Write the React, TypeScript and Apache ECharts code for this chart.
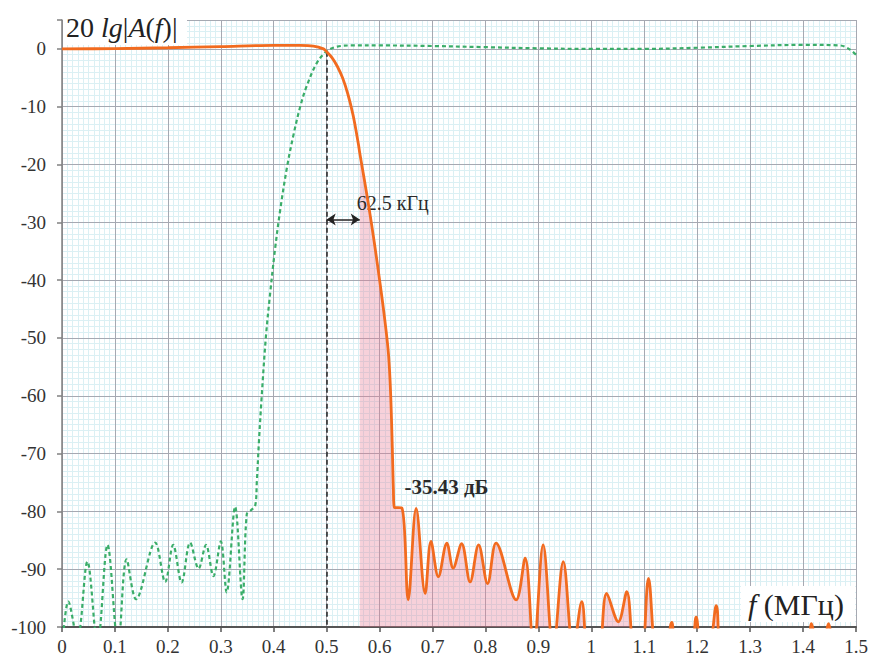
import { useEffect, useRef } from "react";
import * as echarts from "echarts";

// Low-pass response (orange), [f MHz, dB]
const lowpass: [number, number][] = [
  [0, 0], [0.1, 0.05], [0.2, 0.2], [0.3, 0.4], [0.4, 0.6], [0.45, 0.6], [0.475, 0.5], [0.494, 0],
  [0.5, -0.5], [0.51, -1.5], [0.52, -3], [0.53, -5], [0.54, -7.8], [0.55, -11.5], [0.56, -16.5],
  [0.5625, -18], [0.57, -22], [0.58, -27.5], [0.59, -33.5], [0.6, -40], [0.61, -47], [0.617, -53],
  [0.621, -60], [0.624, -69], [0.626, -76], [0.628, -79.3], [0.642, -79.4], [0.654, -95.3], [0.669, -79.5],
  [0.686, -94.2], [0.697, -85.2], [0.711, -91.3], [0.727, -85.5], [0.739, -89.8], [0.755, -85.6],
  [0.771, -92.2], [0.787, -85.8], [0.804, -92.5], [0.82, -85.5], [0.858, -95.3], [0.875, -88.1],
  [0.891, -104], [0.909, -85.8], [0.928, -104], [0.947, -88.7], [0.966, -104], [0.982, -95.6],
  [0.996, -106], [1.012, -106], [1.029, -94.2], [1.051, -99.1], [1.067, -93.9], [1.083, -106],
  [1.094, -106], [1.108, -91.6], [1.125, -106], [1.143, -103], [1.152, -99.2], [1.161, -103],
  [1.188, -103], [1.198, -98.3], [1.208, -103], [1.222, -103], [1.236, -96.3], [1.25, -106],
  [1.405, -106], [1.416, -99.4], [1.427, -103], [1.438, -103], [1.448, -99.4], [1.458, -103], [1.5, -108],
];

// High-pass response (green dashed), [f MHz, dB]
const highpass: [number, number][] = [
  [0, -104], [0.012, -95.6], [0.029, -102], [0.048, -88.7], [0.067, -103], [0.086, -85.8],
  [0.106, -103], [0.122, -88.3], [0.14, -95.2], [0.176, -85.4], [0.195, -92.2], [0.21, -85.8],
  [0.226, -92.3], [0.242, -85.4], [0.258, -89.9], [0.272, -85.8], [0.286, -91.2], [0.3, -85.2],
  [0.311, -94], [0.327, -79.2], [0.341, -95.2], [0.349, -80.5], [0.357, -79.8], [0.365, -79],
  [0.368, -75], [0.372, -68], [0.377, -60.5], [0.385, -50], [0.393, -42.5], [0.402, -35],
  [0.412, -28], [0.425, -20.5], [0.437, -15], [0.45, -10], [0.462, -6.5], [0.481, -2.5],
  [0.5, -0.4], [0.52, 0.4], [0.55, 0.6], [0.6, 0.6], [0.7, 0.5], [0.8, 0.3], [0.9, 0.1], [1.0, 0],
  [1.1, 0], [1.2, 0.2], [1.3, 0.5], [1.4, 0.7], [1.47, 0.6], [1.485, 0.1], [1.5, -1],
];

const cutoffF = 0.5;
const shadeStartF = 0.5625;
const crossDb = -0.5;
const arrowDb = -29.5;
const bandLabel = { f: 0.556, db: -26.6, text: "62.5 кГц" };
const levelLabel = { f: 0.646, db: -75.8, text: "-35.43 дБ" };

const xRange = { min: 0, max: 1.5, major: 0.1, minor: 0.01 };
const yRange = { min: -100, max: 5, major: 10, minor: 1 };

const SERIF = "Liberation Serif";
const ORANGE = "#f26b1f";
const GREEN = "#3aad69";
const SMOOTH = 0.35;

export default function App() {
  const ref = useRef<HTMLDivElement>(null);

  useEffect(() => {
    const chart = echarts.init(ref.current!, null, { renderer: "svg" });
    const shaded = lowpass.filter((p) => p[0] >= shadeStartF);

    chart.setOption({
      animation: false,
      backgroundColor: "#fff",
      textStyle: { fontFamily: SERIF },
      grid: { left: 62, right: 15, top: 20, bottom: 32, containLabel: false },
      xAxis: [
        {
          type: "value",
          min: xRange.min,
          max: xRange.max,
          interval: xRange.major,
          z: 2,
          axisLine: { show: true, onZero: false, lineStyle: { color: "#555", width: 2 } },
          axisTick: { show: true, length: 5, lineStyle: { color: "#555", width: 1.5 } },
          axisLabel: { fontFamily: SERIF, fontSize: 19, color: "#333", margin: 10 },
          splitLine: { show: true, lineStyle: { color: "#a6a9b2", width: 1 } },
        },
        {
          type: "value",
          min: xRange.min,
          max: xRange.max,
          interval: xRange.minor,
          z: 0,
          axisLine: { show: false },
          axisTick: { show: false },
          axisLabel: { show: false },
          splitLine: { show: true, lineStyle: { color: "#dbf0f4", width: 1 } },
        },
      ],
      yAxis: [
        {
          type: "value",
          min: yRange.min,
          max: yRange.max,
          interval: yRange.major,
          z: 2,
          axisLine: { show: true, onZero: false, lineStyle: { color: "#808080", width: 1.5 } },
          axisTick: { show: true, length: 5, lineStyle: { color: "#808080", width: 1.5 } },
          axisLabel: {
            fontFamily: SERIF,
            fontSize: 19,
            color: "#333",
            margin: 16,
            formatter: (v: number) => (v > 0 ? "" : String(v)),
          },
          splitLine: { show: true, lineStyle: { color: "#a6a9b2", width: 1 } },
        },
        {
          type: "value",
          min: yRange.min,
          max: yRange.max,
          interval: yRange.minor,
          z: 0,
          axisLine: { show: false },
          axisTick: { show: false },
          axisLabel: { show: false },
          splitLine: { show: true, lineStyle: { color: "#dbf0f4", width: 1 } },
        },
      ],
      series: [
        {
          type: "line",
          data: shaded,
          smooth: SMOOTH,
          symbol: "none",
          z: 3,
          lineStyle: { width: 0, color: "rgba(0,0,0,0)" },
          areaStyle: { color: "rgba(232,120,145,0.48)", origin: "start" },
          silent: true,
        },
        {
          type: "line",
          data: highpass,
          smooth: SMOOTH,
          symbol: "none",
          z: 4,
          lineStyle: { color: GREEN, width: 2.2, type: [4, 3] },
          silent: true,
        },
        {
          type: "line",
          data: lowpass,
          smooth: SMOOTH,
          symbol: "none",
          z: 5,
          lineStyle: { color: ORANGE, width: 2.8 },
          silent: true,
          markLine: {
            silent: true,
            symbol: ["none", "none"],
            label: { show: false },
            data: [
              [
                { coord: [cutoffF, crossDb], lineStyle: { type: [5, 3], color: "#222", width: 1.5 } },
                { coord: [cutoffF, yRange.min] },
              ],
              [
                {
                  coord: [cutoffF, arrowDb],
                  symbol: "arrow",
                  symbolSize: 9,
                  lineStyle: { type: "solid", color: "#222", width: 1.6 },
                },
                { coord: [shadeStartF, arrowDb], symbol: "arrow", symbolSize: 9 },
              ],
            ],
          },
          markPoint: {
            silent: true,
            symbol: "circle",
            symbolSize: 1,
            itemStyle: { color: "rgba(0,0,0,0)" },
            data: [
              {
                name: bandLabel.text,
                coord: [bandLabel.f, bandLabel.db],
                label: {
                  show: true,
                  position: "right",
                  distance: 0,
                  formatter: "{b}",
                  fontFamily: SERIF,
                  fontSize: 20,
                  color: "#2a2a2a",
                },
              },
              {
                name: levelLabel.text,
                coord: [levelLabel.f, levelLabel.db],
                label: {
                  show: true,
                  position: "right",
                  distance: 0,
                  formatter: "{b}",
                  fontFamily: SERIF,
                  fontSize: 21,
                  fontWeight: "bold",
                  color: "#2a2a2a",
                },
              },
            ],
          },
        },
      ],
      graphic: [
        {
          type: "rect",
          silent: true,
          z: 20,
          shape: { x: 63, y: 17, width: 124, height: 28 },
          style: { fill: "#fff" },
        },
        {
          type: "text",
          silent: true,
          z: 21,
          x: 66,
          y: 27,
          style: {
            text: "{n|20 }{i|lg}{n||}{i|A}{n|(}{i|f}{n|)|}",
            verticalAlign: "middle",
            fontFamily: SERIF,
            fontSize: 28,
            rich: {
              n: { fontFamily: SERIF, fontSize: 28, fill: "#222" },
              i: { fontFamily: SERIF, fontSize: 28, fontStyle: "italic", fill: "#222" },
            },
          },
        },
        {
          type: "rect",
          silent: true,
          z: 20,
          shape: { x: 741, y: 586, width: 114, height: 36 },
          style: { fill: "#fff" },
        },
        {
          type: "text",
          silent: true,
          z: 21,
          x: 748,
          y: 604,
          style: {
            text: "{i|f}{n| (МГц)}",
            verticalAlign: "middle",
            fontFamily: SERIF,
            fontSize: 30,
            rich: {
              n: { fontFamily: SERIF, fontSize: 30, fill: "#222" },
              i: { fontFamily: SERIF, fontSize: 30, fontStyle: "italic", fill: "#222" },
            },
          },
        },
      ],
    });

    return () => chart.dispose();
  }, []);

  return (
    <div
      ref={ref}
      style={{ position: "fixed", left: 0, top: 0, width: 871, height: 659, background: "#fff" }}
    />
  );
}
